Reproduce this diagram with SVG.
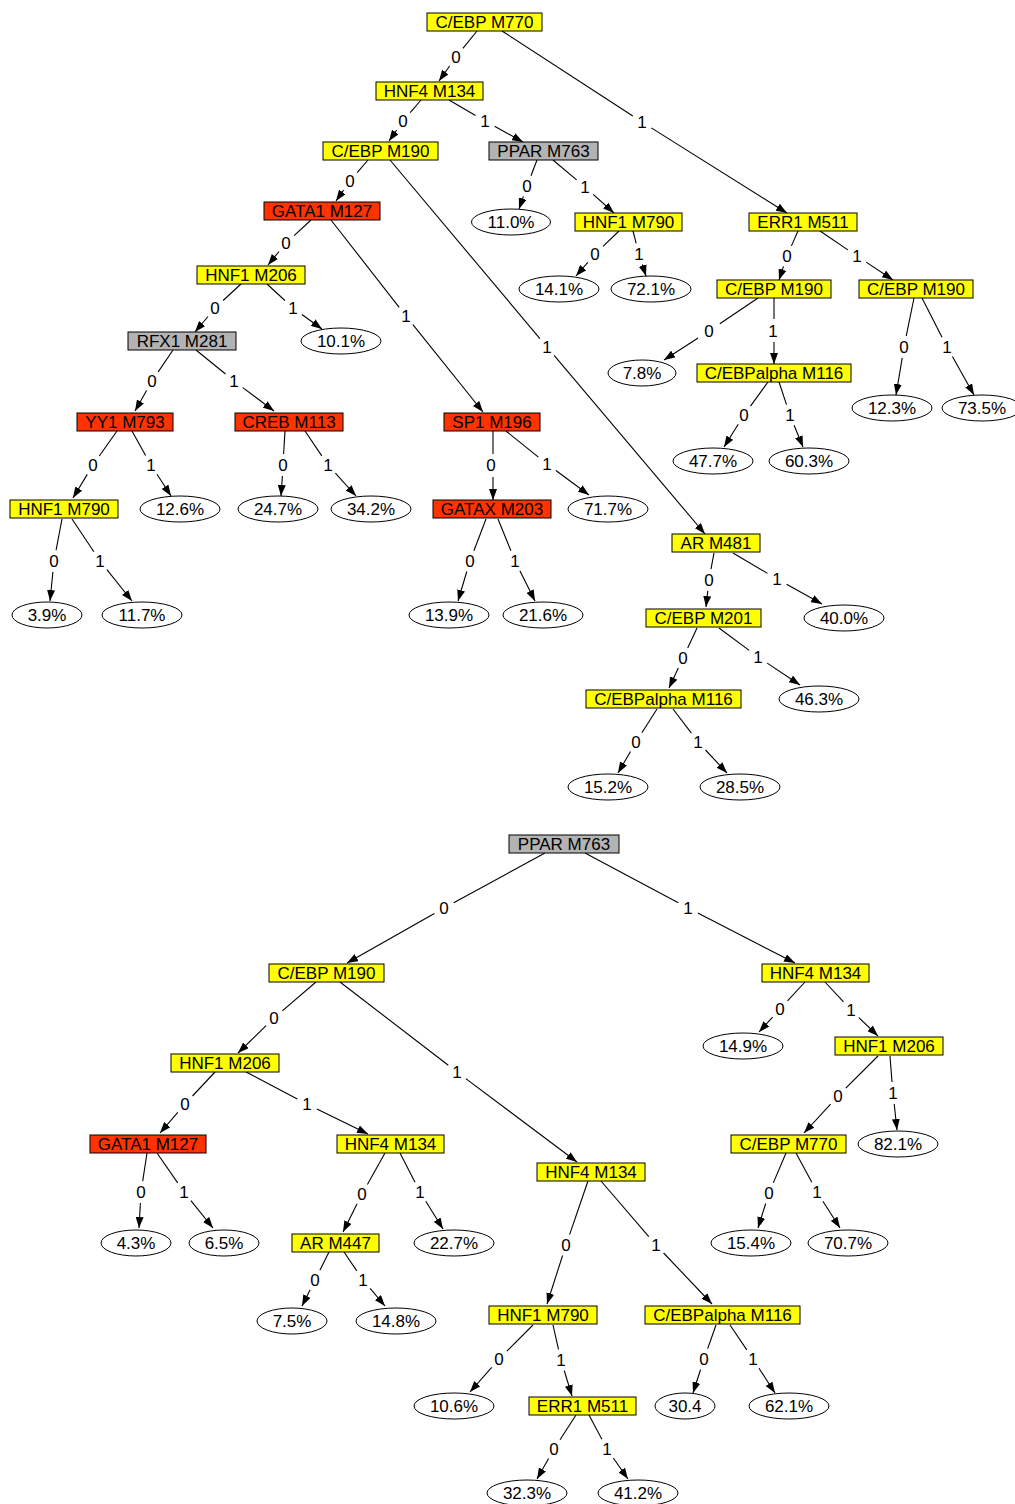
<svg xmlns="http://www.w3.org/2000/svg" width="1015" height="1504" viewBox="0 0 1015 1504">
<style>
text{font-family:"Liberation Sans",Arial,Helvetica,sans-serif;font-size:17px;fill:#000;text-anchor:middle}
.y{fill:#ffff00;stroke:#000;stroke-width:1}
.r{fill:#ff3300;stroke:#000;stroke-width:1}
.g{fill:#b3b3b3;stroke:#000;stroke-width:1}
.e{fill:#fff;stroke:#000;stroke-width:1}
#edges path{fill:none;stroke:#000;stroke-width:1.1}
#edges path.a{marker-end:url(#ah)}
</style>
<defs>
<marker id="ah" markerUnits="userSpaceOnUse" markerWidth="11" markerHeight="8" viewBox="0 0 11 8" refX="11" refY="4" orient="auto"><path d="M0,0 L11,4 L0,8 z" fill="#000"/></marker>
</defs>
<rect width="1015" height="1504" fill="#fff"/>
<g id="edges">
<path d="M477,31 L462.9,48.4"/><path class="a" d="M449.6,66 L439,81"/><text x="456" y="63">0</text>
<path d="M502,31 L632.8,116"/><path class="a" d="M651.3,127.9 L787,213"/><text x="642" y="128">1</text>
<path d="M421,100 L410.2,112.6"/><path class="a" d="M396.7,130 L389,141"/><text x="403" y="127">0</text>
<path d="M449,100 L475.5,115.5"/><path class="a" d="M494.6,126.3 L523,142"/><text x="485" y="127">1</text>
<path d="M368,160 L357.2,172.6"/><path class="a" d="M343.7,190 L336,201"/><text x="350" y="187">0</text>
<path d="M390,160 L539.9,338.6"/><path class="a" d="M554.1,355.4 L705,534"/><text x="547" y="353">1</text>
<path d="M537,160 L531,175.7"/><path class="a" d="M523.4,196.4 L519,209"/><text x="527" y="192">0</text>
<path d="M553,160 L576.6,179.9"/><path class="a" d="M593.2,194.3 L614,213"/><text x="585" y="193">1</text>
<path d="M311,220 L294.1,235.6"/><path class="a" d="M279,251.5 L268,265"/><text x="286" y="249">0</text>
<path d="M331,220 L399.2,307.3"/><path class="a" d="M412.9,324.6 L483,412"/><text x="406" y="322">1</text>
<path d="M798,231 L791.4,245.9"/><path class="a" d="M783.5,266.4 L779,280"/><text x="787" y="262">0</text>
<path d="M820,231 L847.9,249.9"/><path class="a" d="M866.2,262.1 L893,280"/><text x="857" y="262">1</text>
<path d="M619,231 L603,246.4"/><path class="a" d="M587.8,262.3 L576,276"/><text x="595" y="260">0</text>
<path d="M633,231 L636.2,243.4"/><path class="a" d="M642.3,264.5 L646,276"/><text x="639" y="260">1</text>
<path d="M241,284 L223.1,300.5"/><path class="a" d="M208,316.5 L195,332"/><text x="215" y="314">0</text>
<path d="M267,284 L284.9,300.5"/><path class="a" d="M301.9,314.5 L322,329"/><text x="293" y="314">1</text>
<path d="M758,298 L719.8,323.7"/><path class="a" d="M698.1,338 L664,360"/><text x="709" y="337">0</text>
<path d="M774,298 L774,319"/><path class="a" d="M774,342 L774,364"/><text x="773" y="337">1</text>
<path d="M914,298 L906.2,336.2"/><path class="a" d="M902.2,357.8 L896,395"/><text x="904" y="353">0</text>
<path d="M922,298 L942,337.2"/><path class="a" d="M952.4,356.6 L974,395"/><text x="947" y="353">1</text>
<path d="M173,350 L158.2,371.9"/><path class="a" d="M146.6,390.6 L135,411"/><text x="152" y="387">0</text>
<path d="M196,350 L225.5,374"/><path class="a" d="M242.8,387.6 L274,411"/><text x="234" y="387">1</text>
<path d="M768,382 L750.5,406.1"/><path class="a" d="M738.2,424.3 L724,447"/><text x="744" y="421">0</text>
<path d="M779,382 L786.5,404.6"/><path class="a" d="M794.1,425.2 L803,447"/><text x="790" y="421">1</text>
<path d="M117,431 L99.3,456"/><path class="a" d="M87.3,474.4 L73,498"/><text x="93" y="471">0</text>
<path d="M132,431 L145.6,455.4"/><path class="a" d="M157,474.2 L171,496"/><text x="151" y="471">1</text>
<path d="M285,431 L283.6,454"/><path class="a" d="M282.4,476 L281,496"/><text x="283" y="471">0</text>
<path d="M305,431 L321.8,455.9"/><path class="a" d="M335.4,473.2 L356,496"/><text x="328" y="471">1</text>
<path d="M493,431 L493,454"/><path class="a" d="M493,477 L493,500"/><text x="491" y="471">0</text>
<path d="M506,431 L538.4,457.1"/><path class="a" d="M555.9,470.5 L589,495"/><text x="547" y="470">1</text>
<path d="M62,519 L56.1,550.2"/><path class="a" d="M52.9,572 L50,601"/><text x="54" y="567">0</text>
<path d="M72,519 L93.9,551.8"/><path class="a" d="M106.9,569.6 L132,601"/><text x="100" y="567">1</text>
<path d="M486,519 L473.9,550.7"/><path class="a" d="M466.8,571.5 L458,601"/><text x="470" y="567">0</text>
<path d="M498,519 L510.9,550.8"/><path class="a" d="M519.9,570.8 L535,601"/><text x="515" y="567">1</text>
<path d="M714,553 L711,569.2"/><path class="a" d="M707.8,590.9 L706,607"/><text x="709" y="586">0</text>
<path d="M733,553 L767.5,573.4"/><path class="a" d="M786.6,584.3 L822,604"/><text x="777" y="585">1</text>
<path d="M697,628 L687.7,648"/><path class="a" d="M678.3,668 L669,688"/><text x="683" y="664">0</text>
<path d="M719,628 L749.2,650.4"/><path class="a" d="M767.2,663.1 L800,685"/><text x="758" y="663">1</text>
<path d="M657,709 L641.9,732.7"/><path class="a" d="M630.5,751.5 L618,773"/><text x="636" y="748">0</text>
<path d="M673,709 L691.4,733.2"/><path class="a" d="M705.5,750 L727,773"/><text x="698" y="748">1</text>
<path d="M545,853 L453.7,902.7"/><path class="a" d="M434.4,913.4 L347,963"/><text x="444" y="914">0</text>
<path d="M585,853 L678.3,902.8"/><path class="a" d="M697.8,913 L795,963"/><text x="688" y="914">1</text>
<path d="M316,982 L282.3,1010.8"/><path class="a" d="M266.1,1025.7 L238,1053"/><text x="274" y="1024">0</text>
<path d="M340,982 L448.3,1065.3"/><path class="a" d="M465.8,1078.6 L577,1162"/><text x="457" y="1078">1</text>
<path d="M805,982 L787.5,1000.9"/><path class="a" d="M772.6,1017.1 L759,1032"/><text x="780" y="1015">0</text>
<path d="M825,982 L843.5,1001.9"/><path class="a" d="M858.9,1017.6 L878,1036"/><text x="851" y="1016">1</text>
<path d="M878,1056 L845.8,1088.2"/><path class="a" d="M830.6,1104.1 L804,1133"/><text x="838" y="1102">0</text>
<path d="M890,1056 L892,1082"/><path class="a" d="M894.2,1104 L897,1130"/><text x="893" y="1099">1</text>
<path d="M215,1072 L192.5,1096"/><path class="a" d="M177.8,1112.3 L160,1133"/><text x="185" y="1110">0</text>
<path d="M246,1072 L297.3,1098.9"/><path class="a" d="M316.9,1108.9 L368,1134"/><text x="307" y="1110">1</text>
<path d="M147,1153 L142.7,1181.1"/><path class="a" d="M140.4,1203 L139,1228"/><text x="141" y="1198">0</text>
<path d="M157,1153 L177.7,1182.9"/><path class="a" d="M190.9,1200.6 L213,1228"/><text x="184" y="1198">1</text>
<path d="M385,1153 L367.4,1184.4"/><path class="a" d="M357.1,1203.8 L343,1232"/><text x="362" y="1200">0</text>
<path d="M400,1153 L415,1182.2"/><path class="a" d="M425.8,1201.3 L443,1229"/><text x="420" y="1198">1</text>
<path d="M329,1252 L319.9,1270.2"/><path class="a" d="M310.1,1289.8 L302,1306"/><text x="315" y="1286">0</text>
<path d="M344,1252 L356.8,1270.9"/><path class="a" d="M370.1,1288.4 L385,1306"/><text x="363" y="1286">1</text>
<path d="M588,1181 L569.6,1234.6"/><path class="a" d="M562.6,1255.5 L547,1304"/><text x="566" y="1251">0</text>
<path d="M601,1181 L648.8,1236.7"/><path class="a" d="M663.6,1253 L712,1304"/><text x="656" y="1251">1</text>
<path d="M786,1153 L773.3,1182.9"/><path class="a" d="M765.7,1203.5 L758,1228"/><text x="769" y="1199">0</text>
<path d="M796,1153 L811.8,1182.3"/><path class="a" d="M822.9,1201.3 L840,1228"/><text x="817" y="1198">1</text>
<path d="M533,1325 L506.8,1351.2"/><path class="a" d="M491.7,1367.3 L470,1392"/><text x="499" y="1365">0</text>
<path d="M553,1325 L558.5,1349.3"/><path class="a" d="M564.2,1370.5 L572,1396"/><text x="561" y="1366">1</text>
<path d="M716,1325 L707.7,1348.6"/><path class="a" d="M700.6,1369.5 L693,1393"/><text x="704" y="1365">0</text>
<path d="M730,1325 L746.8,1349.9"/><path class="a" d="M759,1368.2 L775,1393"/><text x="753" y="1365">1</text>
<path d="M576,1415 L560,1439.8"/><path class="a" d="M548.6,1458.6 L537,1479"/><text x="554" y="1455">0</text>
<path d="M589,1415 L601.9,1439.3"/><path class="a" d="M613.3,1458 L628,1479"/><text x="607" y="1455">1</text>
</g>
<g id="n1"><rect class="y" x="427" y="13" width="115" height="18"/><text x="484.5" y="28">C/EBP M770</text></g>
<g id="n2"><rect class="y" x="376" y="82" width="107" height="18"/><text x="429.5" y="97">HNF4 M134</text></g>
<g id="n3"><rect class="y" x="323" y="142" width="115" height="18"/><text x="380.5" y="157">C/EBP M190</text></g>
<g id="n4"><rect class="g" x="489" y="142" width="109" height="18"/><text x="543.5" y="157">PPAR M763</text></g>
<g id="n5"><rect class="r" x="264" y="202" width="116" height="18"/><text x="322" y="217">GATA1 M127</text></g>
<g id="n6"><rect class="y" x="749" y="213" width="108" height="18"/><text x="803" y="228">ERR1 M511</text></g>
<g id="n7"><ellipse class="e" cx="511" cy="222" rx="39.5" ry="13"/><text x="511" y="228">11.0%</text></g>
<g id="n8"><rect class="y" x="575" y="213" width="107" height="18"/><text x="628.5" y="228">HNF1 M790</text></g>
<g id="n9"><rect class="y" x="197" y="266" width="108" height="18"/><text x="251" y="281">HNF1 M206</text></g>
<g id="n10"><ellipse class="e" cx="559" cy="289" rx="40" ry="13"/><text x="559" y="295">14.1%</text></g>
<g id="n11"><ellipse class="e" cx="651" cy="289" rx="40" ry="13"/><text x="651" y="295">72.1%</text></g>
<g id="n12"><rect class="y" x="717" y="280" width="114" height="18"/><text x="774" y="295">C/EBP M190</text></g>
<g id="n13"><rect class="y" x="859" y="280" width="114" height="18"/><text x="916" y="295">C/EBP M190</text></g>
<g id="n14"><rect class="g" x="128" y="332" width="108" height="18"/><text x="182" y="347">RFX1 M281</text></g>
<g id="n15"><ellipse class="e" cx="341" cy="341" rx="40" ry="13"/><text x="341" y="347">10.1%</text></g>
<g id="n16"><ellipse class="e" cx="642" cy="373" rx="34" ry="13"/><text x="642" y="379">7.8%</text></g>
<g id="n17"><rect class="y" x="697" y="364" width="154" height="18"/><text x="774" y="379">C/EBPalpha M116</text></g>
<g id="n18"><ellipse class="e" cx="892" cy="408" rx="40" ry="13"/><text x="892" y="414">12.3%</text></g>
<g id="n19"><ellipse class="e" cx="982" cy="408" rx="40" ry="13"/><text x="982" y="414">73.5%</text></g>
<g id="n20"><rect class="r" x="77" y="413" width="96" height="18"/><text x="125" y="428">YY1 M793</text></g>
<g id="n21"><rect class="r" x="235" y="413" width="108" height="18"/><text x="289" y="428">CREB M113</text></g>
<g id="n22"><rect class="r" x="444" y="413" width="96" height="18"/><text x="492" y="428">SP1 M196</text></g>
<g id="n23"><ellipse class="e" cx="713" cy="461" rx="40" ry="13"/><text x="713" y="467">47.7%</text></g>
<g id="n24"><ellipse class="e" cx="809" cy="461" rx="40" ry="13"/><text x="809" y="467">60.3%</text></g>
<g id="n25"><rect class="y" x="10" y="500" width="108" height="18"/><text x="64" y="515">HNF1 M790</text></g>
<g id="n26"><ellipse class="e" cx="180" cy="509" rx="40" ry="13"/><text x="180" y="515">12.6%</text></g>
<g id="n27"><ellipse class="e" cx="278" cy="509" rx="40" ry="13"/><text x="278" y="515">24.7%</text></g>
<g id="n28"><ellipse class="e" cx="371" cy="509" rx="40" ry="13"/><text x="371" y="515">34.2%</text></g>
<g id="n29"><rect class="r" x="433" y="500" width="118" height="18"/><text x="492" y="515">GATAX M203</text></g>
<g id="n30"><ellipse class="e" cx="608" cy="509" rx="40" ry="13"/><text x="608" y="515">71.7%</text></g>
<g id="n31"><rect class="y" x="672" y="534" width="88" height="18"/><text x="716" y="549">AR M481</text></g>
<g id="n32"><ellipse class="e" cx="47" cy="615" rx="35" ry="13"/><text x="47" y="621">3.9%</text></g>
<g id="n33"><ellipse class="e" cx="142" cy="615" rx="40" ry="13"/><text x="142" y="621">11.7%</text></g>
<g id="n34"><ellipse class="e" cx="449" cy="615" rx="40" ry="13"/><text x="449" y="621">13.9%</text></g>
<g id="n35"><ellipse class="e" cx="543" cy="615" rx="40" ry="13"/><text x="543" y="621">21.6%</text></g>
<g id="n36"><rect class="y" x="646" y="609" width="115" height="18"/><text x="703.5" y="624">C/EBP M201</text></g>
<g id="n37"><ellipse class="e" cx="844" cy="618" rx="40" ry="13"/><text x="844" y="624">40.0%</text></g>
<g id="n38"><rect class="y" x="586" y="690" width="155" height="18"/><text x="663.5" y="705">C/EBPalpha M116</text></g>
<g id="n39"><ellipse class="e" cx="819" cy="699" rx="40" ry="13"/><text x="819" y="705">46.3%</text></g>
<g id="n40"><ellipse class="e" cx="608" cy="787" rx="40" ry="13"/><text x="608" y="793">15.2%</text></g>
<g id="n41"><ellipse class="e" cx="740" cy="787" rx="40" ry="13"/><text x="740" y="793">28.5%</text></g>
<g id="m1"><rect class="g" x="509" y="835" width="110" height="18"/><text x="564" y="850">PPAR M763</text></g>
<g id="m2"><rect class="y" x="269" y="964" width="115" height="18"/><text x="326.5" y="979">C/EBP M190</text></g>
<g id="m3"><rect class="y" x="762" y="964" width="107" height="18"/><text x="815.5" y="979">HNF4 M134</text></g>
<g id="m4"><ellipse class="e" cx="743" cy="1046" rx="40" ry="13"/><text x="743" y="1052">14.9%</text></g>
<g id="m5"><rect class="y" x="835" y="1037" width="108" height="18"/><text x="889" y="1052">HNF1 M206</text></g>
<g id="m6"><rect class="y" x="171" y="1054" width="108" height="18"/><text x="225" y="1069">HNF1 M206</text></g>
<g id="m7"><rect class="r" x="90" y="1135" width="116" height="18"/><text x="148" y="1150">GATA1 M127</text></g>
<g id="m8"><rect class="y" x="337" y="1135" width="107" height="18"/><text x="390.5" y="1150">HNF4 M134</text></g>
<g id="m9"><rect class="y" x="731" y="1135" width="115" height="18"/><text x="788.5" y="1150">C/EBP M770</text></g>
<g id="m10"><ellipse class="e" cx="898" cy="1144" rx="40" ry="13"/><text x="898" y="1150">82.1%</text></g>
<g id="m11"><rect class="y" x="537" y="1163" width="108" height="18"/><text x="591" y="1178">HNF4 M134</text></g>
<g id="m12"><ellipse class="e" cx="136" cy="1243" rx="35" ry="13"/><text x="136" y="1249">4.3%</text></g>
<g id="m13"><ellipse class="e" cx="224" cy="1243" rx="35" ry="13"/><text x="224" y="1249">6.5%</text></g>
<g id="m14"><rect class="y" x="292" y="1234" width="87" height="18"/><text x="335.5" y="1249">AR M447</text></g>
<g id="m15"><ellipse class="e" cx="454" cy="1243" rx="40" ry="13"/><text x="454" y="1249">22.7%</text></g>
<g id="m16"><ellipse class="e" cx="751" cy="1243" rx="40" ry="13"/><text x="751" y="1249">15.4%</text></g>
<g id="m17"><ellipse class="e" cx="848" cy="1243" rx="40" ry="13"/><text x="848" y="1249">70.7%</text></g>
<g id="m18"><ellipse class="e" cx="292" cy="1321" rx="35" ry="13"/><text x="292" y="1327">7.5%</text></g>
<g id="m19"><ellipse class="e" cx="396" cy="1321" rx="40" ry="13"/><text x="396" y="1327">14.8%</text></g>
<g id="m20"><rect class="y" x="489" y="1306" width="108" height="18"/><text x="543" y="1321">HNF1 M790</text></g>
<g id="m21"><rect class="y" x="645" y="1306" width="155" height="18"/><text x="722.5" y="1321">C/EBPalpha M116</text></g>
<g id="m22"><ellipse class="e" cx="454" cy="1406" rx="40" ry="13"/><text x="454" y="1412">10.6%</text></g>
<g id="m23"><rect class="y" x="529" y="1397" width="107" height="18"/><text x="582.5" y="1412">ERR1 M511</text></g>
<g id="m24"><ellipse class="e" cx="685" cy="1406" rx="30" ry="13"/><text x="685" y="1412">30.4</text></g>
<g id="m25"><ellipse class="e" cx="789" cy="1406" rx="40" ry="13"/><text x="789" y="1412">62.1%</text></g>
<g id="m26"><ellipse class="e" cx="527" cy="1493" rx="40" ry="13"/><text x="527" y="1499">32.3%</text></g>
<g id="m27"><ellipse class="e" cx="638" cy="1493" rx="40" ry="13"/><text x="638" y="1499">41.2%</text></g>
</svg>
